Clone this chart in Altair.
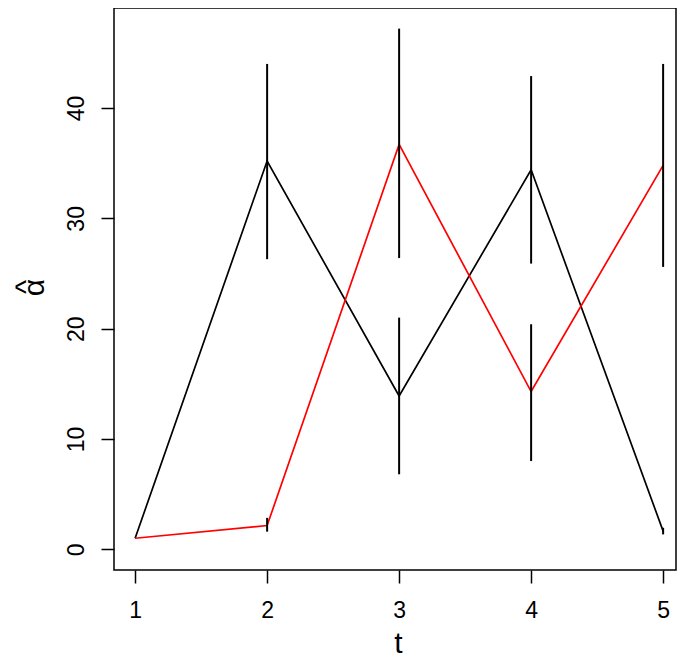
import altair as alt
import pandas as pd

t = [1, 2, 3, 4, 5]
black_vals = [1.0, 35.2, 13.9, 34.4, 1.65]
red_vals = [1.0, 2.15, 36.7, 14.3, 34.8]
black_lo = [1.0, 26.3, 6.8, 25.9, 1.35]
black_hi = [1.0, 44.0, 21.0, 42.9, 1.95]
red_lo = [1.0, 1.6, 26.4, 8.0, 25.6]
red_hi = [1.0, 2.85, 47.2, 20.4, 44.0]
x_ticks = [1, 2, 3, 4, 5]
y_ticks = [0, 10, 20, 30, 40]

rows = []
for i, tt in enumerate(t):
    rows.append({"t": tt, "series": "black", "v": black_vals[i], "lo": black_lo[i], "hi": black_hi[i]})
    rows.append({"t": tt, "series": "red", "v": red_vals[i], "lo": red_lo[i], "hi": red_hi[i]})
df = pd.DataFrame(rows)

FONT = "Liberation Sans"
W = 562
xscale = alt.Scale(domain=[0.84, 0.84 + W / 132.0], nice=False, zero=False)
yscale = alt.Scale(domain=[-1.877, 49.07], nice=False, zero=False)

xaxis = alt.Axis(values=x_ticks, format="d", tickSize=13, tickWidth=1.5, tickColor="black",
                 domain=False, grid=False, labelFontSize=23, labelPadding=16,
                 labelColor="black", labelFont=FONT, title="t", titleFont=FONT,
                 titleFontSize=30, titleFontWeight="normal", titleColor="black",
                 titleX=284, titleY=82, titleBaseline="alphabetic", titleAlign="center")
yaxis = alt.Axis(values=y_ticks, format="d", tickSize=13, tickWidth=1.5, tickColor="black",
                 domain=False, grid=False, labelFontSize=23, labelPadding=18,
                 labelAngle=270, labelAlign="center", labelBaseline="alphabetic",
                 labelColor="black", labelFont=FONT, title="α", titleFont=FONT,
                 titleFontSize=30, titleFontWeight="normal", titleColor="black",
                 titleAngle=270, titleX=-71, titleY=279, titleBaseline="alphabetic",
                 titleAlign="center")

base = alt.Chart(df)
lines = base.mark_line(strokeWidth=1.7).encode(
    x=alt.X("t:Q", scale=xscale, axis=xaxis),
    y=alt.Y("v:Q", scale=yscale, axis=yaxis),
    color=alt.Color("series:N", scale=alt.Scale(domain=["black", "red"], range=["black", "#FF0000"]), legend=None),
    detail="series:N",
)
bars = base.mark_rule(color="black", strokeWidth=2).encode(
    x=alt.X("t:Q", scale=xscale),
    y=alt.Y("lo:Q", scale=yscale),
    y2="hi:Q",
)
hat = alt.Chart(pd.DataFrame({"s": ["^"]})).mark_text(
    angle=270, fontSize=30, font=FONT, color="black", align="center", baseline="alphabetic"
).encode(text="s:N", x=alt.value(-78), y=alt.value(279))

chart = alt.layer(lines, bars, hat).properties(
    width=W, height=562,
    autosize=alt.AutoSizeParams(type="none"),
    padding={"left": 106, "top": 0, "right": 1, "bottom": 90},
).configure(background="white").configure_view(stroke="black", strokeWidth=1.5)

chart.save("out.html", embed_options={"renderer": "svg", "actions": False})
